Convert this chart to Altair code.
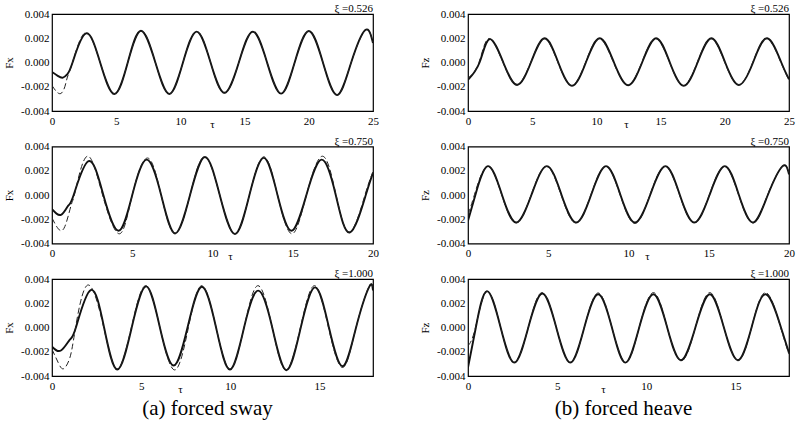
import altair as alt
import pandas as pd

SERIF = "Liberation Serif"

# Force histories (values in units of 1e-3), solid = computed, dashed = reference run
# (a) forced sway, xi = 0.526
sway1_tau_s = [0, 0.45, 0.85, 1.2, 1.6, 2.65, 3.75, 4.86, 5.9, 6.93, 8.05, 9.14, 10.2, 11.27,
               12.35, 13.43, 14.55, 15.64, 16.75, 17.84, 18.9, 20.0, 21.1, 22.2, 23.3, 24.4, 25.0]
sway1_f_s = [-0.78, -1.1, -1.25, -0.95, 0.0, 2.4, 0.0, -2.6, 0.0, 2.62, 0.0, -2.6, 0.0, 2.55,
             0.0, -2.5, 0.0, 2.55, 0.0, -2.57, 0.0, 2.6, 0.0, -2.68, 0.0, 2.68, 1.6]
sway1_tau_d = [0, 0.35, 0.7, 1.0, 1.2, 1.6, 2.6, 3.75, 4.86, 5.9, 6.95, 8.05, 9.14, 10.2, 11.27,
               12.35, 13.43, 14.55, 15.64, 16.75, 17.84, 18.9, 20.0, 21.1, 22.2, 23.3, 24.4, 25.0]
sway1_f_d = [-1.9, -2.4, -2.55, -2.0, -1.2, 0.0, 2.45, 0.0, -2.58, 0.0, 2.6, 0.0, -2.58, 0.0, 2.55,
             0.0, -2.52, 0.0, 2.52, 0.0, -2.55, 0.0, 2.58, 0.0, -2.65, 0.0, 2.65, 1.65]

# (a) forced sway, xi = 0.750
sway2_tau_s = [0, 0.56, 1.0, 1.35, 2.28, 3.2, 4.15, 5.0, 5.9, 6.8, 7.67, 8.6, 9.53, 10.45, 11.4,
               12.3, 13.2, 14.05, 14.92, 15.85, 16.8, 17.68, 18.55, 19.55, 20.0]
sway2_f_s = [-1.17, -1.64, -0.9, 0.0, 2.79, 0, -2.95, 0, 2.92, 0, -3.17, 0, 3.14, 0, -3.22,
             0, 3.06, 0, -2.95, 0, 2.92, 0, -3.09, 0, 1.83]
sway2_tau_d = [0, 0.4, 0.8, 1.2, 1.45, 2.2, 3.15, 4.2, 5.0, 5.95, 6.8, 7.67, 8.6, 9.5, 10.45,
               11.4, 12.3, 13.2, 14.05, 14.95, 15.85, 16.85, 17.7, 18.55, 19.5, 20.0]
sway2_f_d = [-1.9, -2.8, -2.6, -0.8, 0.3, 3.2, 0, -3.2, 0, 3.05, 0, -3.15, 0, 3.15, 0,
             -3.2, 0, 3.15, 0, -3.2, 0, 3.2, 0, -3.05, 0, 1.9]

# (a) forced sway, xi = 1.000
sway3_tau_s = [0, 0.5, 1.0, 1.34, 2.17, 2.92, 3.66, 4.47, 5.28, 6.05, 6.82, 7.6, 8.4, 9.2, 9.98,
               10.77, 11.56, 12.35, 13.14, 13.95, 14.76, 15.53, 16.3, 17.05, 17.78, 18.0]
sway3_f_s = [-1.57, -1.9, -1.0, 0.0, 3.09, 0, -3.47, 0, 3.39, 0, -3.14, 0, 3.36, 0, -3.47,
             0, 3.04, 0, -3.52, 0, 3.31, 0, -3.2, 0, 3.33, 3.05]
sway3_tau_d = [0, 0.35, 0.65, 1.0, 1.3, 2.0, 2.9, 3.66, 4.45, 5.25, 6.05, 6.88, 7.65, 8.4, 9.2,
               9.98, 10.77, 11.55, 12.35, 13.12, 13.93, 14.72, 15.5, 16.3, 17.05, 17.78, 18.0]
sway3_f_d = [-1.8, -2.9, -3.4, -2.5, -0.2, 3.5, 0, -3.42, 0, 3.45, 0, -3.5, 0, 3.45, 0,
             -3.4, 0, 3.45, 0, -3.5, 0, 3.45, 0, -3.3, 0, 3.4, 3.1]

# (b) forced heave, xi = 0.526
heave1_tau_s = [0, 0.9, 1.69, 2.75, 3.82, 4.9, 5.97, 7.03, 8.1, 9.18, 10.26, 11.37, 12.47,
                13.56, 14.65, 15.72, 16.8, 17.88, 18.96, 20.03, 21.1, 22.2, 23.3, 24.4, 25.0]
heave1_f_s = [-1.43, 0, 1.93, 0, -1.85, 0, 2.0, 0, -1.93, 0, 2.0, 0, -1.88,
              0, 2.0, 0, -1.93, 0, 2.0, 0, -1.85, 0, 2.0, 0, -1.38]
heave1_tau_d = [0, 0.85, 1.62, 2.72, 3.8, 4.88, 5.95, 7.0, 8.08, 9.15, 10.22, 11.33, 12.45,
                13.53, 14.62, 15.7, 16.78, 17.85, 18.93, 20.0, 21.08, 22.17, 23.27, 24.37, 25.0]
heave1_f_d = [-1.3, 0, 1.98, 0, -1.8, 0, 1.95, 0, -1.88, 0, 1.96, 0, -1.84,
              0, 1.96, 0, -1.88, 0, 1.96, 0, -1.82, 0, 1.96, 0, -1.45]

# (b) forced heave, xi = 0.750
heave2_tau_s = [0, 0.46, 1.24, 2.12, 3.0, 3.95, 4.91, 5.83, 6.74, 7.67, 8.6, 9.5, 10.4, 11.35,
                12.3, 13.2, 14.1, 15.05, 16.0, 16.88, 17.76, 18.68, 19.6, 20.0]
heave2_f_s = [-2.13, 0, 2.38, 0, -2.27, 0, 2.38, 0, -2.27, 0, 2.38, 0, -2.27, 0,
              2.38, 0, -2.27, 0, 2.38, 0, -2.27, 0, 2.38, 1.7]
heave2_tau_d = [0, 0.35, 1.2, 2.1, 3.0, 3.93, 4.88, 5.8, 6.72, 7.65, 8.58, 9.48, 10.4, 11.33,
                12.28, 13.18, 14.1, 15.03, 15.98, 16.86, 17.76, 18.66, 19.58, 20.0]
heave2_f_d = [-1.6, -0.2, 2.35, 0, -2.3, 0, 2.35, 0, -2.3, 0, 2.35, 0, -2.35, 0,
              2.35, 0, -2.3, 0, 2.35, 0, -2.3, 0, 2.35, 1.8]

# (b) forced heave, xi = 1.000
heave3_tau_s = [0, 0.44, 1.06, 1.83, 2.6, 3.38, 4.17, 4.95, 5.74, 6.52, 7.3, 8.07, 8.83, 9.6,
                10.4, 11.17, 11.94, 12.75, 13.56, 14.35, 15.13, 15.9, 16.7, 17.55, 18.0]
heave3_f_s = [-3.3, 0, 3.0, 0, -2.9, 0, 2.8, 0, -2.9, 0, 2.74, 0, -2.9, 0,
              2.74, 0, -2.7, 0, 2.74, 0, -2.7, 0, 2.74, 0, -2.1]
heave3_tau_d = [0, 0.4, 1.06, 1.83, 2.6, 3.38, 4.15, 4.95, 5.74, 6.52, 7.3, 8.07, 8.85, 9.6,
                10.4, 11.17, 11.96, 12.75, 13.56, 14.35, 15.15, 15.9, 16.7, 17.53, 18.0]
heave3_f_d = [-1.5, -0.1, 2.95, 0, -2.85, 0, 2.88, 0, -2.85, 0, 2.85, 0, -2.85, 0,
              2.88, 0, -2.75, 0, 2.88, 0, -2.7, 0, 2.88, 0, -2.2]

XI_LABELS = ["ξ =0.526", "ξ =0.750", "ξ =1.000"]
X_MAX = [25, 20, 18]
X_TICKS = [[0, 5, 10, 15, 20, 25], [0, 5, 10, 15, 20], [0, 5, 10, 15]]
Y_TICKS = [-0.004, -0.002, 0.0, 0.002, 0.004]
CAPTIONS = ["(a) forced sway", "(b) forced heave"]

PANEL_W = 321
PANEL_H = 97


def panel(tau_s, f_s, tau_d, f_d, xmax, xticks, ylabel, xi_label, tau_x, caption=None):
    rows = [{"tau": t, "f": v / 1000.0, "run": "solid"} for t, v in zip(tau_s, f_s)]
    rows += [{"tau": t, "f": v / 1000.0, "run": "dashed"} for t, v in zip(tau_d, f_d)]
    df = pd.DataFrame(rows)

    x_axis = alt.Axis(values=xticks, format="d", title="τ", titleX=tau_x, titleY=16,
                      titleBaseline="alphabetic", titleFont=SERIF, titleFontSize=11,
                      titleFontWeight="normal", labelFont=SERIF, labelFontSize=11,
                      labelFlush=False, labelPadding=4, ticks=False, domain=False, grid=False,
                      labelColor="black", titleColor="black")
    y_axis = alt.Axis(values=Y_TICKS,
                      labelExpr="(datum.value < 0 ? '-' : '') + format(abs(datum.value), '.3f')",
                      title=ylabel, titleFont=SERIF, titleFontSize=11, titleFontWeight="normal",
                      titlePadding=6, labelFont=SERIF, labelFontSize=11, labelPadding=3,
                      ticks=False, domain=False, grid=False, labelColor="black", titleColor="black")

    base = alt.Chart(df).encode(
        x=alt.X("tau:Q", scale=alt.Scale(domain=[0, xmax], nice=False, zero=False), axis=x_axis),
        y=alt.Y("f:Q", scale=alt.Scale(domain=[-0.004, 0.004], nice=False), axis=y_axis),
    )
    solid = base.transform_filter(alt.datum.run == "solid").mark_line(
        color="#111111", strokeWidth=1.9, interpolate="natural", clip=True)
    dashed = base.transform_filter(alt.datum.run == "dashed").mark_line(
        color="#222222", strokeWidth=1.0, strokeDash=[6, 3], interpolate="natural", clip=True)

    # xi label sitting just above the frame's top-right corner
    xi = alt.Chart(pd.DataFrame({"t": [xi_label]})).mark_text(
        font=SERIF, fontSize=11, align="right", baseline="alphabetic", color="black"
    ).encode(x=alt.value(PANEL_W), y=alt.value(-2), text="t:N")
    layers = [solid, dashed, xi]
    if caption:
        cap = alt.Chart(pd.DataFrame({"c": [caption]})).mark_text(
            font=SERIF, fontSize=21, align="center", baseline="alphabetic", color="black"
        ).encode(x=alt.value(PANEL_W / 2 - 5), y=alt.value(PANEL_H + 39), text="c:N")
        layers.append(cap)
    return alt.layer(*layers).properties(width=PANEL_W, height=PANEL_H)


sway = [(sway1_tau_s, sway1_f_s, sway1_tau_d, sway1_f_d),
        (sway2_tau_s, sway2_f_s, sway2_tau_d, sway2_f_d),
        (sway3_tau_s, sway3_f_s, sway3_tau_d, sway3_f_d)]
heave = [(heave1_tau_s, heave1_f_s, heave1_tau_d, heave1_f_d),
         (heave2_tau_s, heave2_f_s, heave2_tau_d, heave2_f_d),
         (heave3_tau_s, heave3_f_s, heave3_tau_d, heave3_f_d)]
tau_pos_left = [160, 178, 128]
tau_pos_right = [158, 179, 135]

left_panels = [panel(*sway[i], X_MAX[i], X_TICKS[i], "Fx", XI_LABELS[i], tau_pos_left[i],
                     CAPTIONS[0] if i == 2 else None) for i in range(3)]
right_panels = [panel(*heave[i], X_MAX[i], X_TICKS[i], "Fz", XI_LABELS[i], tau_pos_right[i],
                      CAPTIONS[1] if i == 2 else None) for i in range(3)]

left_col = alt.vconcat(*left_panels, spacing=35.5, bounds="flush")
right_col = alt.vconcat(*right_panels, spacing=35.5, bounds="flush")

chart = alt.hconcat(left_col, right_col, spacing=38).properties(
    padding={"left": 2, "top": 2, "right": 5, "bottom": 5},
    background="white",
).configure_view(stroke="black", strokeWidth=1.2)

chart.save("out.html", embed_options={"renderer": "svg", "actions": False})
